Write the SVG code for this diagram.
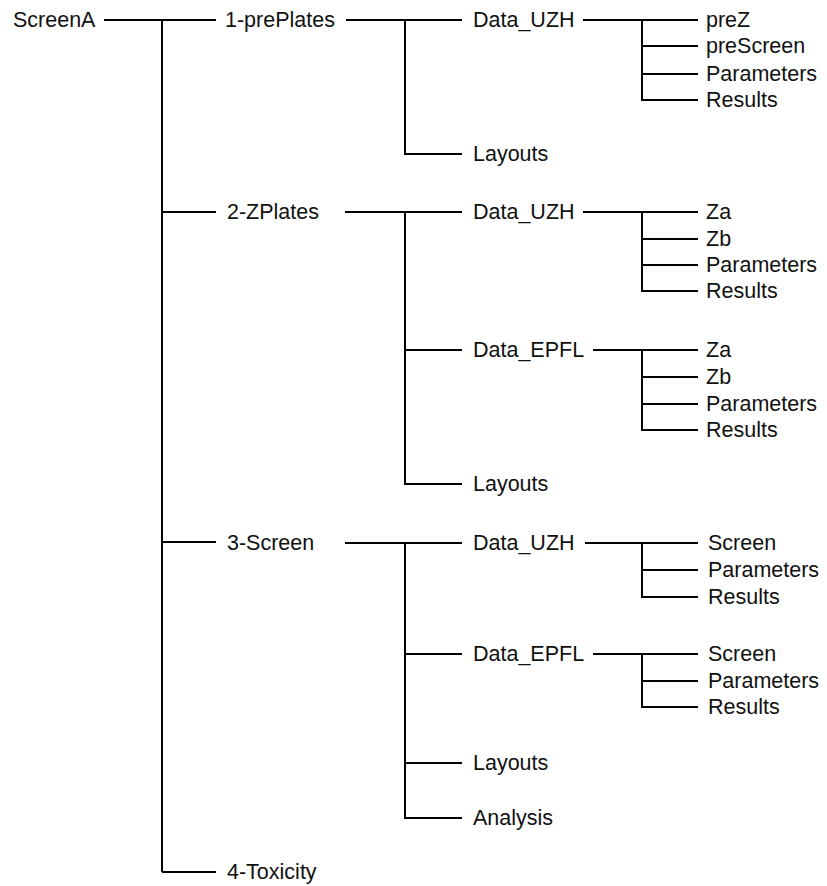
<svg xmlns="http://www.w3.org/2000/svg" width="827" height="886" viewBox="0 0 827 886">
<style>
text{font-family:"Liberation Sans",Arial,sans-serif;font-size:21.5px;fill:#111}
.c path{stroke:#000;stroke-width:2;fill:none}
</style>
<rect width="827" height="886" fill="#fff"/>
<g class="c" id="connectors">
<path d="M104 20H216M162 20V872M162 212H216M162 542H216M162 872H216"/>
<path d="M346 20H462M405 20V154H462"/>
<path d="M345 212H462M405 212V484H462M405 350H462"/>
<path d="M345 543H462M405 543V818H462M405 654H462M405 763H462"/>
<path d="M583 20H698M642 20V100H698M642 46H698M642 74H698"/>
<path d="M583 212H698M642 212V291H698M642 239H698M642 265H698"/>
<path d="M593 350H698M642 350V430H698M642 377H698M642 404H698"/>
<path d="M585 543H698M642 543V597H698M642 570H698"/>
<path d="M593 654H698M642 654V707H698M642 681H698"/>
</g>
<g id="n-root"><text x="13" y="27">ScreenA</text></g>
<g id="n-1"><text x="225" y="27">1-prePlates</text></g>
<g id="n-1-uzh"><text x="473" y="27">Data_UZH</text></g>
<g id="n-1-uzh-prez"><text x="706" y="27">preZ</text></g>
<g id="n-1-uzh-prescreen"><text x="706" y="53">preScreen</text></g>
<g id="n-1-uzh-params"><text x="706" y="81">Parameters</text></g>
<g id="n-1-uzh-results"><text x="706" y="107">Results</text></g>
<g id="n-1-layouts"><text x="473" y="161">Layouts</text></g>
<g id="n-2"><text x="227" y="219">2-ZPlates</text></g>
<g id="n-2-uzh"><text x="473" y="219">Data_UZH</text></g>
<g id="n-2-uzh-za"><text x="706" y="219">Za</text></g>
<g id="n-2-uzh-zb"><text x="706" y="246">Zb</text></g>
<g id="n-2-uzh-params"><text x="706" y="272">Parameters</text></g>
<g id="n-2-uzh-results"><text x="706" y="298">Results</text></g>
<g id="n-2-epfl"><text x="473" y="357">Data_EPFL</text></g>
<g id="n-2-epfl-za"><text x="706" y="357">Za</text></g>
<g id="n-2-epfl-zb"><text x="706" y="384">Zb</text></g>
<g id="n-2-epfl-params"><text x="706" y="411">Parameters</text></g>
<g id="n-2-epfl-results"><text x="706" y="437">Results</text></g>
<g id="n-2-layouts"><text x="473" y="491">Layouts</text></g>
<g id="n-3"><text x="227" y="550">3-Screen</text></g>
<g id="n-3-uzh"><text x="473" y="550">Data_UZH</text></g>
<g id="n-3-uzh-screen"><text x="708" y="550">Screen</text></g>
<g id="n-3-uzh-params"><text x="708" y="577">Parameters</text></g>
<g id="n-3-uzh-results"><text x="708" y="604">Results</text></g>
<g id="n-3-epfl"><text x="473" y="661">Data_EPFL</text></g>
<g id="n-3-epfl-screen"><text x="708" y="661">Screen</text></g>
<g id="n-3-epfl-params"><text x="708" y="688">Parameters</text></g>
<g id="n-3-epfl-results"><text x="708" y="714">Results</text></g>
<g id="n-3-layouts"><text x="473" y="770">Layouts</text></g>
<g id="n-3-analysis"><text x="473" y="825">Analysis</text></g>
<g id="n-4"><text x="227" y="879">4-Toxicity</text></g>
</svg>
